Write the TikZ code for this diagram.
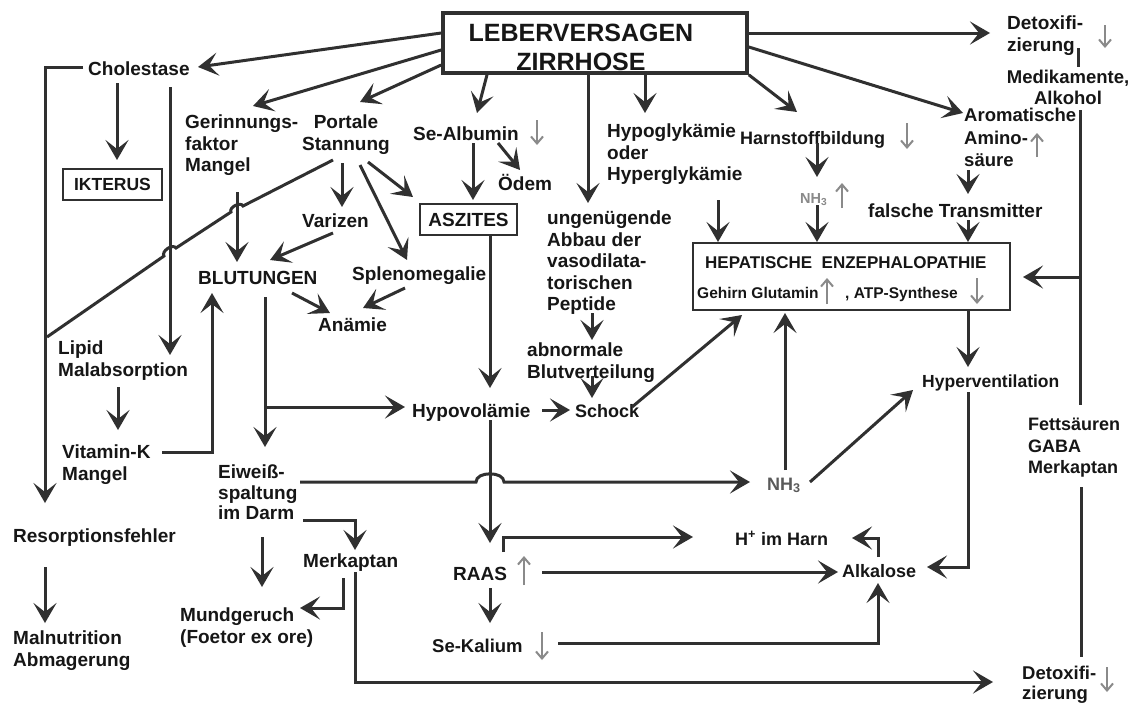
\documentclass[tikz,border=0pt]{standalone}
\usepackage{fontspec}
\setmainfont{Liberation Sans}
\usetikzlibrary{arrows.meta}
\definecolor{ink}{HTML}{161616}
\definecolor{wire}{HTML}{303030}
\definecolor{faint}{HTML}{8A8A8A}
\definecolor{nhgrey}{HTML}{5A5A5A}
\begin{document}
\begin{tikzpicture}[x=1pt,y=-1pt,
  lbl/.style={font=\bfseries\fontsize{19}{21.5}\selectfont, text=ink, inner sep=0pt, anchor=north west, align=left},
  lbla/.style={font=\bfseries\fontsize{19}{21.5}\selectfont, text=ink, inner sep=0pt, anchor=base west},
  boxed/.style={draw=wire, line width=2.6pt, inner sep=0pt, anchor=center},
  arr/.style={draw=wire, line width=3pt, -{Stealth[length=20pt, width=23pt, inset=9pt]}},
  ln/.style={draw=wire, line width=3pt},
  updn/.style={draw=faint, line width=2pt, -{Straight Barb[length=7pt, width=12pt, line width=2pt]}},
]
\useasboundingbox (0,0) rectangle (1142,702);
\fill[white] (0,0) rectangle (1142,702);

% ---------- boxes ----------
\node[boxed, line width=3.6pt, minimum width=304pt, minimum height=60pt] (title) at (595,43) {};
\node[font=\bfseries\fontsize{25}{29}\selectfont, text=ink, align=center, inner sep=0pt] (titletext) at (581,47.5) {LEBERVERSAGEN\\ZIRRHOSE};
\node[boxed, font=\bfseries\fontsize{17.5}{20}\selectfont, text=ink, minimum width=99pt, minimum height=31pt] (ikterus) at (112.5,184.5) {IKTERUS};
\node[boxed, font=\bfseries\fontsize{19}{21}\selectfont, text=ink, minimum width=97pt, minimum height=31pt] (aszites) at (468.5,219.5) {ASZITES};
\node[boxed, minimum width=317pt, minimum height=67pt] (he) at (851.5,276.5) {};
\node[font=\bfseries\fontsize{17}{20}\selectfont, text=ink, inner sep=0pt, anchor=base west] (hetitle) at (705,268) {HEPATISCHE\ \ ENZEPHALOPATHIE};
\node[font=\bfseries\fontsize{15.5}{18}\selectfont, text=ink, inner sep=0pt, anchor=base west] (glutamin) at (697,298) {Gehirn Glutamin};
\node[font=\bfseries\fontsize{15.5}{18}\selectfont, text=ink, inner sep=0pt, anchor=base west] (atp) at (845,298) {, ATP-Synthese};

% ---------- labels ----------
\node[lbla] (cholestase) at (88,75) {Cholestase};
\node[lbl] (gerinnung) at (185,115) {Gerinnungs-\\faktor\\Mangel};
\node[lbl, anchor=north, align=center] (portale) at (346,115) {Portale\\Stannung};
\node[lbla] (albumin) at (413,140) {Se-Albumin};
\node[lbla] (oedem) at (498,190) {Ödem};
\node[lbl] (hypogly) at (607,124) {Hypoglykämie\\oder\\Hyperglykämie};
\node[lbl] (abbau) at (547,211) {ungenügende\\Abbau der\\vasodilata-\\torischen\\Peptide};
\node[lbla, font=\bfseries\fontsize{18}{21}\selectfont] (harnstoff) at (740,144) {Harnstoffbildung};
\node[lbl] (detoxtop) at (1007,16) {Detoxifi-\\zierung};
\node[lbl, anchor=north, align=center, font=\bfseries\fontsize{18.5}{20.5}\selectfont] (medik) at (1068,70) {Medikamente,\\Alkohol};
\node[lbl, font=\bfseries\fontsize{18.5}{22.5}\selectfont] (aromat) at (964,108) {Aromatische\\Amino-\\säure};
\node[lbla] (falsche) at (868,217) {falsche Transmitter};
\node[font=\bfseries\fontsize{14.5}{16}\selectfont, text=faint, inner sep=0pt, anchor=base west] (nhtop) at (800,203) {NH\textsubscript{3}};
\node[lbla] (varizen) at (302,227) {Varizen};
\node[lbla] (blutungen) at (198,284) {BLUTUNGEN};
\node[lbla] (spleno) at (352,280) {Splenomegalie};
\node[lbla] (anaemie) at (318,331) {Anämie};
\node[lbl] (lipid) at (58,341) {Lipid\\Malabsorption};
\node[lbl] (vitk) at (62,445) {Vitamin-K\\Mangel};
\node[lbla] (resorp) at (13,542) {Resorptionsfehler};
\node[lbl] (malnut) at (13,631) {Malnutrition\\Abmagerung};
\node[lbl] (abnorm) at (527,343) {abnormale\\Blutverteilung};
\node[lbla] (hypovol) at (412,417) {Hypovolämie};
\node[lbla, font=\bfseries\fontsize{18}{21}\selectfont] (schock) at (575,417) {Schock};
\node[lbla, font=\bfseries\fontsize{17.5}{21}\selectfont] (hypervent) at (922,387) {Hyperventilation};
\node[lbl, font=\bfseries\fontsize{18}{21.5}\selectfont] (fetts) at (1028,418) {Fettsäuren\\GABA\\Merkaptan};
\node[font=\bfseries\fontsize{18}{20}\selectfont, text=nhgrey, inner sep=0pt, anchor=base west] (nhmid) at (767,490) {NH\textsubscript{3}};
\node[lbl, font=\bfseries\fontsize{19}{20.5}\selectfont] (eiweiss) at (218,465) {Eiweiß-\\spaltung\\im Darm};
\node[lbla] (merkmid) at (303,567) {Merkaptan};
\node[lbl] (mundgeruch) at (180,608) {Mundgeruch\\(Foetor ex ore)};
\node[lbla] (raas) at (453,580) {RAAS};
\node[lbla, font=\bfseries\fontsize{18.5}{21}\selectfont] (kalium) at (432,652) {Se-Kalium};
\node[lbla, font=\bfseries\fontsize{18}{21}\selectfont] (harn) at (735,545) {H\textsuperscript{+} im Harn};
\node[lbla, font=\bfseries\fontsize{18}{21}\selectfont] (alkalose) at (842,577) {Alkalose};
\node[lbl, font=\bfseries\fontsize{18.5}{20}\selectfont] (detoxbot) at (1022,666) {Detoxifi-\\zierung};

% ---------- small rise / fall marks ----------
\draw[updn] (537,120) -- (537,145);
\draw[updn] (907,123) -- (907,149);
\draw[updn] (1105,25) -- (1105,48);
\draw[updn] (1037,157) -- (1037,133);
\draw[updn] (842,208) -- (842,183);
\draw[updn] (827,304) -- (827,278);
\draw[updn] (977,278) -- (977,304);
\draw[updn] (524,585) -- (524,556);
\draw[updn] (542,632) -- (542,660);
\draw[updn] (1107,667) -- (1107,692);

% ---------- from the central box ----------
\draw[arr] (title.west |- 0,33) -- (198,67);
\draw[arr] (title.west |- 0,50) -- (253,106);
\draw[arr] (title.west |- 0,65) -- (360,102);
\draw[arr] (title.south -| 487,0) -- (477,113);
\draw[arr] (title.south -| 588,0) -- (588,203);
\draw[arr] (title.south -| 645,0) -- (645,113);
\draw[arr] (title.east |- 0,33) -- (990,33);
\draw[arr] (title.south east) -- (797,112);
\draw[arr] (title.east |- 0,47) -- (963,113);

% ---------- left column ----------
\draw[arr] (83,67) -- (45,67) -- (45,503);
\draw[arr] (117,83) -- (117,160);
\draw[arr] (170,87) -- (170,355);
\draw[arr] (237,192) -- (237,262);
\draw[ln] (333,160) -- (243,206) to[bend right=90] (231,212)
          -- (176,248) to[bend right=90] (164,256) -- (47,337);
\draw[arr] (118,387) -- (118,430);
\draw[arr] (162,452) -- (212,452) -- (212,293);
\draw[arr] (45,567) -- (45,623);

% ---------- portal hypertension ----------
\draw[arr] (342,163) -- (342,207);
\draw[arr] (368,162) -- (413,197);
\draw[arr] (360,165) -- (407,260);
\draw[arr] (333,233) -- (270,260);
\draw[arr] (292,293) -- (330,313);
\draw[arr] (405,288) -- (363,308);
\draw[arr] (473,143) -- (473,200);
\draw[arr] (498,143) -- (520,170);
\draw[arr] (aszites.south -| 490,0) -- (490,388);

% ---------- bleeding, volume, shock ----------
\draw[arr] (265,297) -- (265,447);
\draw[arr] (265,407) -- (405,407);
\draw[arr] (592,313) -- (592,340);
\draw[arr] (592,376) -- (592,398);
\draw[arr] (542,410) -- (570,410);
\draw[arr] (632,407) -- (742,315);

% ---------- encephalopathy ----------
\draw[arr] (718,200) -- (718,242);
\draw[arr] (817,143) -- (817,177);
\draw[arr] (817,205) -- (817,242);
\draw[arr] (968,170) -- (968,194);
\draw[arr] (968,220) -- (968,242);
\draw[ln] (1078,48) -- (1078,67);
\draw[ln] (1080,110) -- (1080,405);
\draw[arr] (1080,277) -- (1023,277);
\draw[arr] (968,310) -- (968,367);
\draw[arr] (968,392) -- (968,567) -- (927,567);
\draw[ln] (1081,487) -- (1081,657);

% ---------- protein breakdown ----------
\draw[arr] (300,482) -- (476,482) to[bend left=90] (504,482) -- (750,482);
\draw[arr] (490,420) -- (490,543);
\draw[arr] (303,520) -- (355,520) -- (355,550);
\draw[arr] (262,537) -- (262,587);
\draw[arr] (343,578) -- (343,608) -- (300,608);
\draw[arr] (355,572) -- (355,682) -- (993,682);
\draw[arr] (810,482) -- (913,390);
\draw[arr] (785,470) -- (785,313);

% ---------- RAAS and alkalosis ----------
\draw[arr] (503,552) -- (503,537) -- (693,537);
\draw[arr] (490,588) -- (490,623);
\draw[arr] (542,572) -- (838,572);
\draw[arr] (558,643) -- (878,643) -- (878,583);
\draw[arr] (878,557) -- (878,538) -- (852,538);
\end{tikzpicture}
\end{document}
